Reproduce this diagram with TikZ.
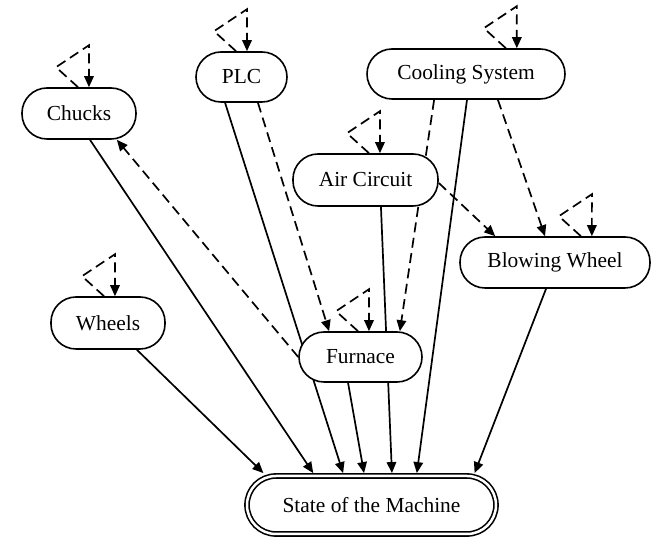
\documentclass[tikz,border=0pt]{standalone}
\usepackage{fontspec}
\setmainfont{Liberation Serif}
\usetikzlibrary{arrows.meta}
\pgfdeclarelayer{bg}
\pgfsetlayers{bg,main}
\begin{document}
\begin{tikzpicture}[x=1bp,y=1bp,>={Triangle[length=11bp,width=9.5bp]},
	unit/.style={draw,line width=1.6bp,rounded corners=25bp,minimum height=50bp,inner sep=0pt,fill=white,font=\fontsize{21.5}{26}\selectfont},
	machine/.style={unit,double,double distance=2.5bp,rounded corners=29bp,minimum width=249bp,minimum height=58bp,outer sep=2.9bp},
	link/.style={line width=1.7bp},
	dep/.style={link,dash pattern=on 10bp off 5.5bp}]
	\useasboundingbox (0,0) rectangle (661,538);
	\node[unit,minimum width=114bp,minimum height=51bp] (chucks)  at (79,424.5)  {Chucks};
	\node[unit,minimum width=91bp]                      (plc)     at (241.5,461) {PLC};
	\node[unit,minimum width=198bp]                     (cool)    at (466,464)   {Cooling System};
	\node[unit,minimum width=145bp,minimum height=52bp] (air)     at (365.5,358) {Air Circuit};
	\node[unit,minimum width=190bp,minimum height=51bp] (blow)    at (555,275.5) {Blowing Wheel};
	\node[unit,minimum width=114bp,minimum height=52bp] (wheels)  at (108,215)   {Wheels};
	\node[unit,minimum width=123bp]                     (furnace) at (360.5,181) {Furnace};
	\node[machine]                                      (state)   at (371.5,33)  {State of the Machine};
	\begin{pgfonlayer}{bg}
		\path[link,->] ([xshift=29]wheels.south) edge ([xshift=-108.5]state.north)
			([xshift=11]chucks.south) edge ([xshift=-58.5]state.north)
			([xshift=-16.5]plc.south) edge ([xshift=-28.5]state.north)
			([xshift=-12.5]furnace.south) edge ([xshift=-7.5]state.north)
			([xshift=15.5]air.south) edge ([xshift=20.5]state.north)
			([xshift=1]cool.south) edge ([xshift=45.5]state.north)
			([xshift=-9]blow.south) edge ([xshift=103.5]state.north);
		\path[dep,->] ([xshift=16.5]plc.south) edge ([xshift=-31.5]furnace.north)
			([xshift=-32]cool.south) edge ([xshift=39.5]furnace.north)
			([xshift=32]cool.south) edge ([xshift=-10]blow.north)
			([yshift=-3]air.east) edge ([xshift=-60]blow.north)
			(furnace.west) edge ([xshift=38]chucks.south);
	\end{pgfonlayer}
	\foreach \n/\d in {chucks/10,plc/5.5,cool/51,air/14.5,blow/37,furnace/8.5,wheels/7}
		\draw[dep,->] ([xshift=\d-11]\n.north) -- ++(-22,20) -- ++(33,22) -- ([xshift=\d]\n.north);
\end{tikzpicture}
\end{document}
